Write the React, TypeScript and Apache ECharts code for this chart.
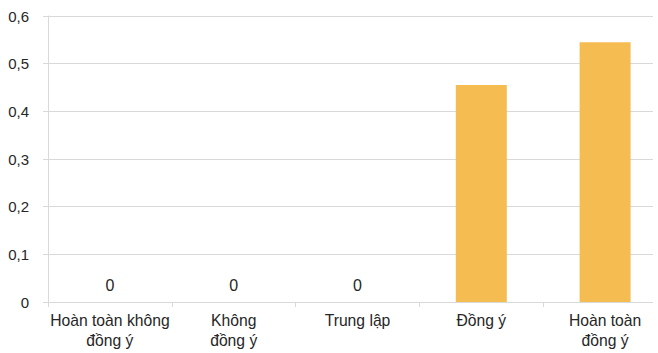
import React, { useEffect, useRef } from "react";
import * as echarts from "echarts";

const categories = ["Hoàn toàn không\nđồng ý", "Không\nđồng ý", "Trung lập", "Đồng ý", "Hoàn toàn\nđồng ý"];
const values = [0, 0, 0, 0.455, 0.545];
const yTicks = { min: 0, max: 0.6, interval: 0.1 };

export default function App() {
  const ref = useRef<HTMLDivElement>(null);
  useEffect(() => {
    const chart = echarts.init(ref.current!, null, { renderer: "svg" });
    chart.setOption({
      animation: false,
      grid: { left: 48, top: 16, height: 286, right: 0, containLabel: false },
      xAxis: {
        type: "category",
        data: categories,
        axisLine: { lineStyle: { color: "#d9d9d9", width: 1 } },
        axisTick: { show: true, length: 5, lineStyle: { color: "#d9d9d9" } },
        axisLabel: {
          color: "#262626",
          fontFamily: "Liberation Sans, Arial, sans-serif",
          fontSize: 15.7,
          lineHeight: 20,
          margin: 8,
          interval: 0,
        },
      },
      yAxis: {
        type: "value",
        min: yTicks.min,
        max: yTicks.max,
        interval: yTicks.interval,
        axisLine: { show: true, lineStyle: { color: "#d9d9d9", width: 1 } },
        axisTick: { show: true, length: 5, lineStyle: { color: "#d9d9d9" } },
        splitLine: { lineStyle: { color: "#d9d9d9", width: 1 } },
        axisLabel: {
          color: "#262626",
          fontFamily: "Liberation Sans, Arial, sans-serif",
          fontSize: 15,
          margin: 19,
          formatter: (v: number) => (v === 0 ? "0" : v.toFixed(1).replace(".", ",")),
        },
      },
      series: [
        {
          type: "bar",
          data: values,
          barWidth: 51,
          itemStyle: { color: "#F5BC52" },
          label: {
            show: true,
            position: "top",
            distance: 9,
            color: "#262626",
            fontFamily: "Liberation Sans, Arial, sans-serif",
            fontSize: 16,
            formatter: (p: any) => (p.value === 0 ? "0" : ""),
          },
        },
      ],
    });
    return () => chart.dispose();
  }, []);
  return (
    <div style={{ position: "absolute", left: 0, top: 0, width: 653, height: 353, overflow: "hidden" }}>
      <div ref={ref} style={{ width: 667, height: 353 }} />
    </div>
  );
}
